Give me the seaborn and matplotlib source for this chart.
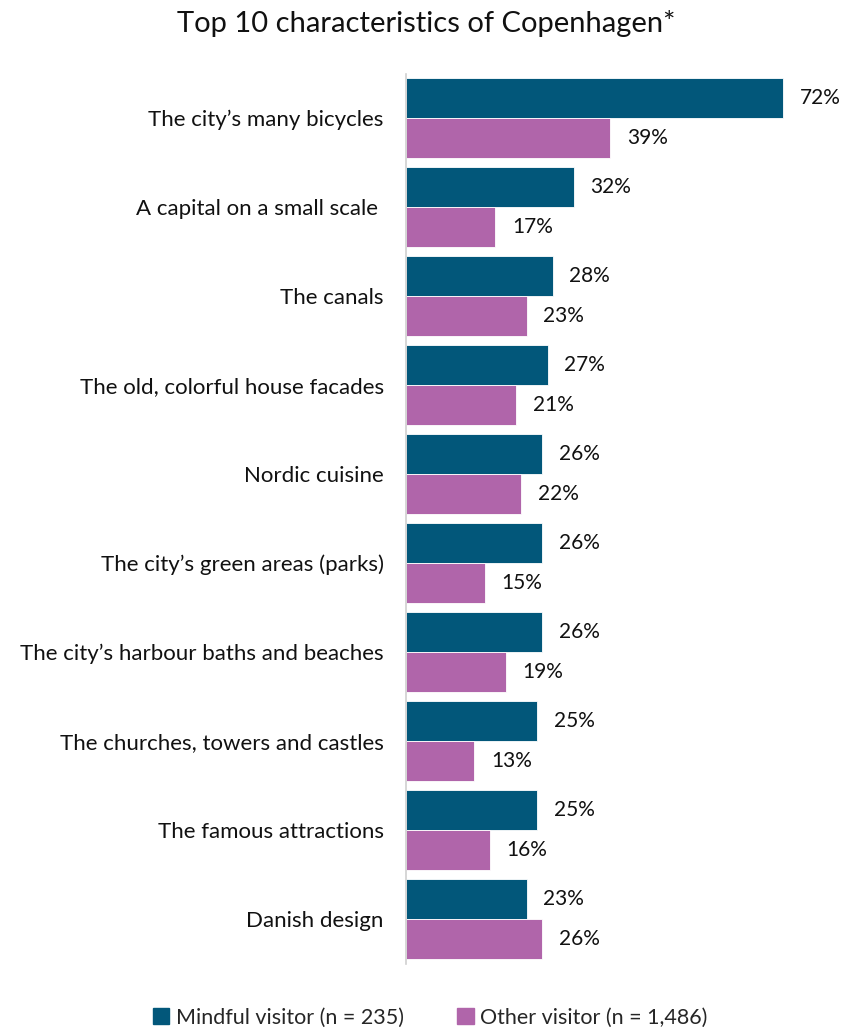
import matplotlib
matplotlib.use("Agg")
import matplotlib.pyplot as plt
import seaborn as sns
import pandas as pd

categories = [
    "The city\u2019s many bicycles",
    "A capital on a small scale ",
    "The canals",
    "The old, colorful house facades",
    "Nordic cuisine",
    "The city\u2019s green areas (parks)",
    "The city\u2019s harbour baths and beaches",
    "The churches, towers and castles",
    "The famous attractions",
    "Danish design",
]
mindful = [72, 32, 28, 27, 26, 26, 26, 25, 25, 23]
other = [39, 17, 23, 21, 22, 15, 19, 13, 16, 26]
series_names = ["Mindful visitor (n = 235)", "Other visitor (n = 1,486)"]
colors = ["#02577A", "#B065AA"]

df = pd.DataFrame({
    "category": categories * 2,
    "value": mindful + other,
    "group": [series_names[0]] * len(categories) + [series_names[1]] * len(categories),
})

sns.set_theme(style="white")
plt.rcParams["font.family"] = ["Lato", "DejaVu Sans"]

fig = plt.figure(figsize=(8.52, 10.27), dpi=100)
ax = fig.add_axes([0.4765, 0.0618, 0.52, 0.8666])

sns.barplot(data=df, y="category", x="value", hue="group", order=categories,
            hue_order=series_names, palette=colors, saturation=1, orient="h",
            width=0.9, edgecolor="#ffffff", linewidth=0.6, ax=ax, legend=True)

for container in ax.containers:
    ax.bar_label(container, labels=[f"{v:.0f}%" for v in container.datavalues],
                 padding=12, fontsize=15, color="#111111")

ax.set_xlim(0, 84.5)
ax.set_ylim(9.5, -0.5)
ax.set_xlabel("")
ax.set_ylabel("")
ax.set_xticks([])
ax.tick_params(axis="y", length=0, pad=16, labelsize=16, labelcolor="#111111")
for s in ["top", "right", "bottom"]:
    ax.spines[s].set_visible(False)
ax.spines["left"].set_color("#d0d0d0")
ax.spines["left"].set_linewidth(1.2)

ax.legend_.remove()
handles = [plt.Rectangle((0, 0), 1, 1, color=c) for c in colors]
fig.legend(handles, series_names, loc="center", bbox_to_anchor=(0.505, 0.009),
           ncol=2, frameon=False, fontsize=15.5, handlelength=0.75, handleheight=0.75,
           handletextpad=0.3, columnspacing=2.5)

fig.text(0.5, 0.977, "Top 10 characteristics of Copenhagen*", ha="center", va="center",
         fontsize=21, color="#111111")

fig.savefig("out.png", dpi=100)
